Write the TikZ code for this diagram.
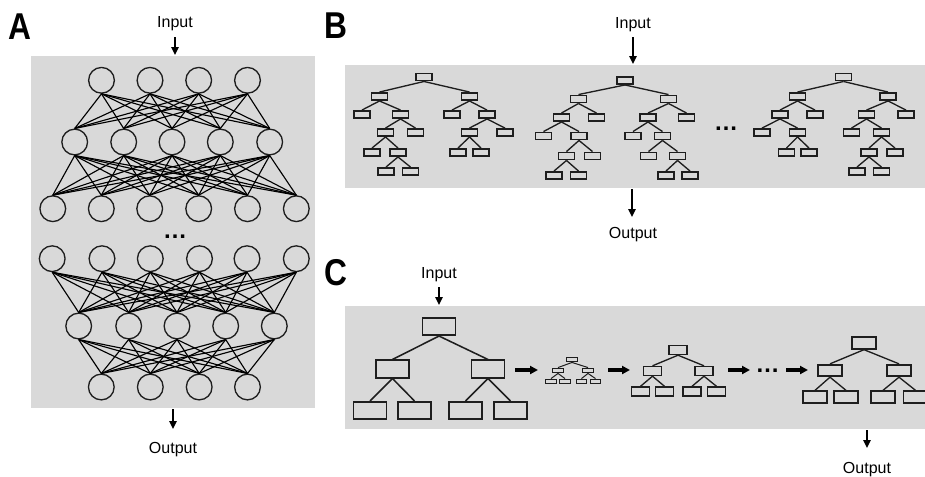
\documentclass[tikz,border=0pt]{standalone}
\usepackage{fontspec}
\usepackage{graphicx}
\setmainfont{Liberation Sans}
\usetikzlibrary{arrows.meta}
\definecolor{bg}{RGB}{217,217,217}
\definecolor{ln}{RGB}{30,30,30}
\begin{document}
\begin{tikzpicture}[x=0.75pt,y=-0.75pt,
  panel/.style={fill=bg,draw=none},
  neuron/.style={circle,draw=ln,line width=1pt,minimum size=19.3pt,inner sep=0pt},
  nnedge/.style={draw=black,line width=0.85pt},
  bx/.style={draw=ln,line width=1.2pt,minimum width=12.2pt,minimum height=5.5pt,inner sep=0pt},
  cbig/.style={draw=ln,line width=1.4pt,minimum width=24.8pt,minimum height=12.9pt,inner sep=0pt},
  ctiny/.style={draw=ln,line width=0.9pt,minimum width=7.9pt,minimum height=3.5pt,inner sep=0pt},
  cmid/.style={draw=ln,line width=1.1pt,minimum width=13.5pt,minimum height=6.7pt,inner sep=0pt},
  clarge/.style={draw=ln,line width=1.3pt,minimum width=18.2pt,minimum height=8.7pt,inner sep=0pt},
  tedge/.style={draw=ln,line width=1pt},
  tedgebig/.style={draw=ln,line width=1.15pt},
  tedgesmall/.style={draw=ln,line width=0.75pt},
  ioarrow/.style={-{Triangle[length=6pt,width=5.5pt]},line width=1.6pt,black},
  chainarrow/.style={-{Triangle[length=6pt,width=6pt]},line width=2.4pt,black},
  lbl/.style={font=\fontsize{12}{14}\selectfont,inner sep=0pt,anchor=base},
  panelletter/.style={font=\fontsize{28}{28}\selectfont\bfseries,inner sep=0pt,anchor=base},
  dots/.style={font=\fontsize{18}{18}\selectfont\bfseries,inner sep=0pt,anchor=base}
]
\useasboundingbox (0,0) rectangle (925,476);
\clip (0,0) rectangle (925,476);

% ---------------- panel backgrounds
\fill[panel] (31,56) rectangle (315,408);
\fill[panel] (345,65) rectangle (925,188);
\fill[panel] (345,306) rectangle (925,429);

% ---------------- letters
\node[panelletter] (labA) at (20,39) {\scalebox{0.85}[1]{A}};
\node[panelletter] (labB) at (336,38) {\scalebox{0.85}[1]{B}};
\node[panelletter] (labC) at (336,285) {\scalebox{0.85}[1]{C}};

% ---------------- panel A: neural network
\foreach \x [count=\i] in {101.5,150,198.7,247.5} \node[neuron] (a1-\i) at (\x,80.3) {};
\foreach \x [count=\i] in {74.7,123.7,172,220.3,269.7} \node[neuron] (a2-\i) at (\x,142) {};
\foreach \x [count=\i] in {52.8,101.3,149.7,198.7,247.5,296.3} \node[neuron] (a3-\i) at (\x,208.7) {};
\foreach \x [count=\i] in {52.2,102,150.3,199.5,247,296.3} \node[neuron] (a4-\i) at (\x,258.7) {};
\foreach \x [count=\i] in {78.7,128.7,177,225.7,274.3} \node[neuron] (a5-\i) at (\x,326) {};
\foreach \x [count=\i] in {101.3,150.3,199.2,247.5} \node[neuron] (a6-\i) at (\x,387) {};

\foreach \i in {1,...,4} \foreach \j in {1,...,5} \draw[nnedge] (a1-\i.south) -- (a2-\j.north);
\foreach \i in {1,...,5} \foreach \j in {1,...,6} \draw[nnedge] (a2-\i.south) -- (a3-\j.north);
\foreach \i in {1,...,6} \foreach \j in {1,...,5} \draw[nnedge] (a4-\i.south) -- (a5-\j.north);
\foreach \i in {1,...,5} \foreach \j in {1,...,4} \draw[nnedge] (a5-\i.south) -- (a6-\j.north);

\node[dots] (adots) at (175,238) {…};

\node[lbl] (ainput) at (175,27) {Input};
\coordinate (ainS) at (175,37);
\coordinate (ainE) at (175,55);
\draw[ioarrow] (ainS) -- (ainE);
\coordinate (aoutS) at (173,409);
\coordinate (aoutE) at (173,429);
\draw[ioarrow] (aoutS) -- (aoutE);
\node[lbl] (aoutput) at (173,453) {Output};

% ---------------- panel B: random forest
% tree 1
\node[bx] (b1) at (424,77) {};
\node[bx] (b1l) at (379.5,96.5) {};
\node[bx] (b1r) at (469.5,96.5) {};
\node[bx] (b1ll) at (362,114.5) {};
\node[bx] (b1lr) at (400.5,114.5) {};
\node[bx] (b1rl) at (452,114.5) {};
\node[bx] (b1rr) at (487,114.5) {};
\node[bx] (b1lrl) at (385.5,132.5) {};
\node[bx] (b1lrr) at (415.5,132.5) {};
\node[bx] (b1rrl) at (469.5,132.5) {};
\node[bx] (b1rrr) at (505,132.5) {};
\node[bx] (b1lrll) at (372,152.5) {};
\node[bx] (b1lrlr) at (398,152.5) {};
\node[bx] (b1rrll) at (458,152.5) {};
\node[bx] (b1rrlr) at (481,152.5) {};
\node[bx] (b1lrlrl) at (386,171.5) {};
\node[bx] (b1lrlrr) at (410.5,171.5) {};
% tree 2
\node[bx] (b2) at (625,80.5) {};
\node[bx] (b2l) at (578.5,99) {};
\node[bx] (b2r) at (668.5,99) {};
\node[bx] (b2ll) at (561.5,117.5) {};
\node[bx] (b2lr) at (596.5,117.5) {};
\node[bx] (b2rl) at (648,117.5) {};
\node[bx] (b2rr) at (686.5,117.5) {};
\node[bx] (b2lll) at (543.5,136) {};
\node[bx] (b2llr) at (579,136) {};
\node[bx] (b2rll) at (633,136) {};
\node[bx] (b2rlr) at (662.5,136) {};
\node[bx] (b2llrl) at (566.5,156) {};
\node[bx] (b2llrr) at (592.5,156) {};
\node[bx] (b2rlrl) at (648.5,156) {};
\node[bx] (b2rlrr) at (677.5,156) {};
\node[bx] (b2llrll) at (554,175.5) {};
\node[bx] (b2llrlr) at (578.5,175.5) {};
\node[bx] (b2rlrrl) at (666,175.5) {};
\node[bx] (b2rlrrr) at (690,175.5) {};
% tree 3
\node[bx] (b3) at (843.5,77) {};
\node[bx] (b3l) at (797.5,96.5) {};
\node[bx] (b3r) at (888,96.5) {};
\node[bx] (b3ll) at (780,114.5) {};
\node[bx] (b3lr) at (815,114.5) {};
\node[bx] (b3rl) at (866.5,114.5) {};
\node[bx] (b3rr) at (906,114.5) {};
\node[bx] (b3lll) at (762,132.5) {};
\node[bx] (b3llr) at (797.5,132.5) {};
\node[bx] (b3rll) at (851.5,132.5) {};
\node[bx] (b3rlr) at (881.5,132.5) {};
\node[bx] (b3llrl) at (786.5,152.5) {};
\node[bx] (b3llrr) at (809,152.5) {};
\node[bx] (b3rlrl) at (869,152.5) {};
\node[bx] (b3rlrr) at (895,152.5) {};
\node[bx] (b3rlrll) at (857,171.5) {};
\node[bx] (b3rlrlr) at (881.5,171.5) {};

\foreach \p/\c in {b1/b1l,b1/b1r,b1l/b1ll,b1l/b1lr,b1r/b1rl,b1r/b1rr,b1lr/b1lrl,b1lr/b1lrr,
  b1rr/b1rrl,b1rr/b1rrr,b1lrl/b1lrll,b1lrl/b1lrlr,b1rrl/b1rrll,b1rrl/b1rrlr,b1lrlr/b1lrlrl,b1lrlr/b1lrlrr,
  b2/b2l,b2/b2r,b2l/b2ll,b2l/b2lr,b2r/b2rl,b2r/b2rr,b2ll/b2lll,b2ll/b2llr,b2rl/b2rll,b2rl/b2rlr,
  b2llr/b2llrl,b2llr/b2llrr,b2rlr/b2rlrl,b2rlr/b2rlrr,b2llrl/b2llrll,b2llrl/b2llrlr,b2rlrr/b2rlrrl,b2rlrr/b2rlrrr,
  b3/b3l,b3/b3r,b3l/b3ll,b3l/b3lr,b3r/b3rl,b3r/b3rr,b3ll/b3lll,b3ll/b3llr,b3rl/b3rll,b3rl/b3rlr,
  b3llr/b3llrl,b3llr/b3llrr,b3rlr/b3rlrl,b3rlr/b3rlrr,b3rlrl/b3rlrll,b3rlrl/b3rlrlr}
  \draw[tedge] (\p.south) -- (\c.north);

\node[dots] (bdots) at (726,130) {…};

\node[lbl] (binput) at (633,28) {Input};
\coordinate (binS) at (633,37);
\coordinate (binE) at (633,64);
\draw[ioarrow] (binS) -- (binE);
\coordinate (boutS) at (632,189);
\coordinate (boutE) at (632,217);
\draw[ioarrow] (boutS) -- (boutE);
\node[lbl] (boutput) at (633,238) {Output};

% ---------------- panel C: boosting
% tree 1
\node[cbig] (c1) at (439,326.5) {};
\node[cbig] (c1l) at (392.5,369) {};
\node[cbig] (c1r) at (488,369) {};
\node[cbig] (c1ll) at (370,410.5) {};
\node[cbig] (c1lr) at (414.5,410.5) {};
\node[cbig] (c1rl) at (465.5,410.5) {};
\node[cbig] (c1rr) at (510.5,410.5) {};
% tree 2
\node[ctiny] (c2) at (572,359.5) {};
\node[ctiny] (c2l) at (558,370.5) {};
\node[ctiny] (c2r) at (588,370.5) {};
\node[ctiny] (c2ll) at (551,381.5) {};
\node[ctiny] (c2lr) at (565,381.5) {};
\node[ctiny] (c2rl) at (581.5,381.5) {};
\node[ctiny] (c2rr) at (595.5,381.5) {};
% tree 3
\node[cmid] (c3) at (678,350) {};
\node[cmid] (c3l) at (652.5,371) {};
\node[cmid] (c3r) at (704,371) {};
\node[cmid] (c3ll) at (640.5,391.5) {};
\node[cmid] (c3lr) at (664.5,391.5) {};
\node[cmid] (c3rl) at (692,391.5) {};
\node[cmid] (c3rr) at (716.5,391.5) {};
% tree 4
\node[clarge] (c4) at (864,343) {};
\node[clarge] (c4l) at (830,370.5) {};
\node[clarge] (c4r) at (899,370.5) {};
\node[clarge] (c4ll) at (815,397) {};
\node[clarge] (c4lr) at (846,397) {};
\node[clarge] (c4rl) at (883,397) {};
\node[clarge] (c4rr) at (915.5,397) {};

\foreach \k/\s in {1/tedgebig,2/tedgesmall,3/tedge,4/tedge}{
  \draw[\s] (c\k.south) -- (c\k l.north);
  \draw[\s] (c\k.south) -- (c\k r.north);
  \draw[\s] (c\k l.south) -- (c\k ll.north);
  \draw[\s] (c\k l.south) -- (c\k lr.north);
  \draw[\s] (c\k r.south) -- (c\k rl.north);
  \draw[\s] (c\k r.south) -- (c\k rr.north);
}

\coordinate (ch1S) at (515,370);
\coordinate (ch1E) at (538,370);
\coordinate (ch2S) at (608,370);
\coordinate (ch2E) at (630,370);
\coordinate (ch3S) at (728,370);
\coordinate (ch3E) at (750,370);
\coordinate (ch4S) at (786,370);
\coordinate (ch4E) at (808,370);
\draw[chainarrow] (ch1S) -- (ch1E);
\draw[chainarrow] (ch2S) -- (ch2E);
\draw[chainarrow] (ch3S) -- (ch3E);
\draw[chainarrow] (ch4S) -- (ch4E);
\node[dots] (cdots) at (767.5,372) {…};

\node[lbl] (cinput) at (439,278) {Input};
\coordinate (cinS) at (439,287);
\coordinate (cinE) at (439,305);
\draw[ioarrow] (cinS) -- (cinE);
\coordinate (coutS) at (867,430);
\coordinate (coutE) at (867,448);
\draw[ioarrow] (coutS) -- (coutE);
\node[lbl] (coutput) at (867,473) {Output};
\end{tikzpicture}
\end{document}
